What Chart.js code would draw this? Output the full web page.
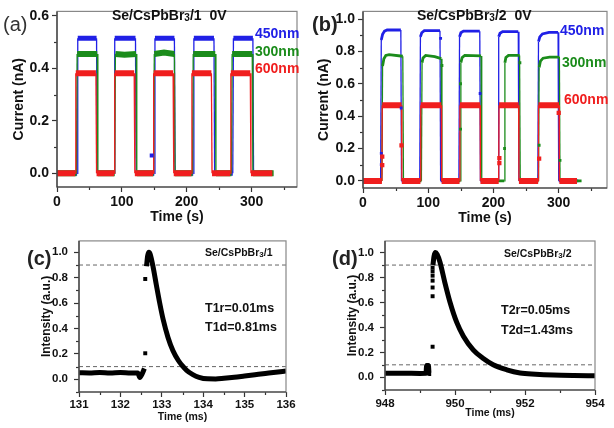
<!DOCTYPE html>
<html><head><meta charset="utf-8">
<script src="https://cdn.jsdelivr.net/npm/chart.js@4.4.0/dist/chart.umd.min.js"></script>
<style>
html,body{margin:0;padding:0;background:#fff;}
#wrap{position:relative;width:614px;height:428px;overflow:hidden;background:#fff;}
canvas{position:absolute;}
</style></head><body>
<div id="wrap">
<canvas id="ca" width="307" height="228" style="left:0px;top:0px"></canvas>
<canvas id="cb" width="309" height="228" style="left:305px;top:0px"></canvas>
<canvas id="cc" width="307" height="200" style="left:0px;top:228px"></canvas>
<canvas id="cd" width="307" height="200" style="left:307px;top:228px"></canvas>
</div>
<script>
// ---------- DATA (time, value) ----------
// (a) Se/CsPbBr3/1 0V  : time (s), current (nA)
const a600 = [[0,0],[28,0],[29,0.381],[60,0.381],[61,0],[88,0],[89,0.381],[119,0.381],[120,0],[148,0],[149,0.381],[179,0.381],[180,0],[207,0],[208,0.381],[238,0.381],[239,0],[267,0],[268,0.381],[298,0.381],[299,0],[332,0]];
const a450 = [[0,0],[31,0],[32,0.515],[61,0.515],[62,0],[88,0],[89,0.515],[121,0.515],[122,0],[150,0],[151,0.515],[181,0.515],[182,0],[210,0],[211,0.515],[242,0.515],[243,0],[271,0],[272,0.515],[302,0.515],[303,0],[332,0]];
const a300 = [[0,0],[30,0],[31,0.455],[62,0.455],[63,0],[89,0],[90,0.455],[104,0.452],[122,0.455],[123,0],[149,0],[150,0.455],[165,0.46],[181,0.455],[182,0],[209,0],[210,0.455],[244,0.455],[245,0],[269,0],[270,0.455],[301,0.455],[302,0],[334,0]];
const a450Marks = [[146,0.068]];

// (b) Se/CsPbBr3/2 0V
const b600 = [[0,0],[29,0],[29.5,0.467],[59,0.467],[59.5,0],[88,0],[88.5,0.467],[120,0.467],[120.5,0],[148,0],[148.5,0.467],[179.5,0.467],[180,0],[208,0],[208.5,0.467],[238.5,0.467],[239,0],[268.5,0],[269,0.467],[300.5,0.467],[301,0],[328,0]];
const b450 = [[0,0],[27,0],[28,0.87],[30,0.905],[33,0.925],[37,0.932],[58,0.932],[59,0],[87,0],[88,0.89],[90,0.915],[94,0.928],[118,0.928],[119,0],[147,0],[148,0.89],[150,0.915],[154,0.925],[179,0.925],[180,0],[207,0],[208,0.89],[210,0.912],[214,0.922],[238,0.922],[239,0],[268,0],[269,0.86],[271,0.89],[275,0.908],[285,0.917],[299,0.918],[300,0],[330,0]];
const b300 = [[0,0],[29,0],[30,0.71],[32,0.755],[35,0.775],[40,0.78],[61,0.77],[62,0],[89.5,0],[90.5,0.73],[92,0.76],[96,0.775],[110,0.768],[120,0.755],[121,0],[149,0],[150,0.73],[152,0.762],[156,0.775],[181,0.772],[182,0],[216.5,0],[217.5,0.73],[219,0.762],[223,0.775],[240,0.775],[241,0],[269,0],[270,0.7],[272,0.74],[276,0.758],[286,0.765],[301,0.765],[302,0],[335,0]];
const b600Marks = [[29.5,0.15],[29.5,0.097],[59,0.22],[209,0.14],[209,0.11],[270,0.137],[300,0.42]];
const b450Marks = [[28,0.17],[28,0.1],[58.5,0.45],[119,0.88],[179.5,0.54]];
const b300Marks = [[121,0.713],[149.5,0.6],[149.5,0.32],[217,0.2],[240.5,0.73],[270,0.22],[302,0.127]];

// (c) Se/CsPbBr3/1 : time (ms), normalized intensity
const cCurve = [[131,0.052],[131.25,0.05],[131.5,0.054],[131.75,0.05],[132,0.053],[132.25,0.049],[132.42,0.05],[132.47,0.015],[132.52,0.04],[132.58,0.085],[132.6,null],[132.63,0.89],[132.66,0.975],[132.69,1.0],[132.72,0.985],[132.79,0.885],[132.87,0.74],[132.95,0.6],[133.03,0.475],[133.15,0.33],[133.27,0.225],[133.4,0.148],[133.5,0.105],[133.6,0.07],[133.75,0.037],[133.9,0.016],[134.1,0.004],[134.3,0.003],[134.5,0.008],[134.75,0.016],[135,0.026],[135.25,0.036],[135.5,0.046],[135.75,0.056],[136,0.065]];
const cMarks = [[132.6,0.205],[132.6,0.79]];
const cLevels = [0.9, 0.1];

// (d) Se/CsPbBr3/2
const dCurve = [[948,0.032],[948.5,0.033],[949,0.031],[949.17,0.032],[949.19,0.095],[949.24,0.095],[949.26,0.03],[949.32,0.03],[949.34,null],[949.37,0.9],[949.4,0.97],[949.44,1.0],[949.49,0.985],[949.57,0.925],[949.71,0.76],[949.86,0.6],[950.05,0.44],[950.24,0.33],[950.52,0.22],[950.81,0.15],[951.09,0.1],[951.48,0.06],[951.86,0.035],[952.3,0.025],[952.8,0.018],[953.4,0.014],[954,0.012]];
const dMarks = [[949.36,0.88],[949.36,0.85],[949.36,0.815],[949.36,0.775],[949.36,0.72],[949.36,0.65],[949.36,0.245]];
const dLevels = [0.9, 0.1];

// ---------- STYLE ----------
const F = "'Liberation Sans', Arial, Helvetica, sans-serif";
const RED = '#f01e1e', GREEN = '#1b8c1b', BLUE = '#2020e6', BLACK = '#000';

const decoPlugin = {
  id: 'deco',
  afterDraw(chart, args, o) {
    const {ctx, chartArea: a, scales: {x, y}} = chart;
    ctx.save();
    ctx.lineWidth = 1.2;
    ctx.strokeStyle = '#333';
    const minor = (s, step, major, horiz) => {
      for (let v = Math.ceil(s.min / step - 1e-9) * step; v <= s.max + 1e-9; v += step) {
        const r = v / major;
        if (Math.abs(r - Math.round(r)) < 1e-6) continue;
        const p = Math.round(s.getPixelForValue(v)) + 0.5;
        ctx.beginPath();
        if (horiz) { ctx.moveTo(p, a.bottom); ctx.lineTo(p, a.bottom + 3); }
        else { ctx.moveTo(a.left - 3, p); ctx.lineTo(a.left, p); }
        ctx.stroke();
      }
    };
    minor(x, o.minorX, o.majorX, true);
    minor(y, o.minorY, o.majorY, false);
    ctx.strokeStyle = '#888';
    ctx.strokeRect(a.left, a.top, a.right - a.left, a.bottom - a.top);
    ctx.strokeStyle = '#333';
    ctx.beginPath();
    ctx.moveTo(a.left, a.top); ctx.lineTo(a.left, a.bottom); ctx.lineTo(a.right, a.bottom);
    ctx.stroke();
    ctx.textBaseline = 'middle';
    ctx.textAlign = 'left';
    for (const t of o.texts) {
      let cx = t.x;
      for (const r of t.runs) {
        ctx.font = r[1] + ' ' + F;
        ctx.fillStyle = r[2];
        ctx.fillText(r[0], cx, t.y + (r[3] || 0));
        cx += ctx.measureText(r[0]).width;
      }
    }
    ctx.restore();
  }
};

function series(data, color, thick, thin) {
  return {data, borderColor: color, backgroundColor: color, pointRadius: 0, borderWidth: thin,
    clip: 0, tension: 0, showLine: true, spanGaps: false,
    segment: {borderWidth: c => Math.abs(c.p1.parsed.x - c.p0.parsed.x) > 1.2 ? thick : thin}};
}
function curve(data) {
  return {data, borderColor: BLACK, pointRadius: 0, borderWidth: 5, clip: 0, showLine: true,
    spanGaps: false, cubicInterpolationMode: 'monotone', borderJoinStyle: 'round'};
}
function marks(data, color, r) {
  return {data, showLine: false, pointStyle: 'rect', pointRadius: r, backgroundColor: color,
    borderWidth: 0, clip: 0};
}
function level(v, x0, x1) {
  return {data: [[x0, v], [x1, v]], borderColor: '#666', borderWidth: 1, borderDash: [4, 3],
    pointRadius: 0, showLine: true, clip: 0};
}
function axis(o) {
  return {
    type: 'linear', position: o.pos, min: o.min, max: o.max,
    ticks: {stepSize: o.step, includeBounds: false, autoSkip: false, maxRotation: 0,
      padding: o.tp, color: '#111', font: {family: F, size: o.fs, weight: 'bold'},
      callback: o.fmt},
    grid: {drawOnChartArea: false, drawTicks: true, tickLength: 5, color: '#333', tickWidth: 1.2},
    border: {display: false},
    title: {display: true, text: o.title, color: '#111',
      font: {family: F, size: o.tfs, weight: 'bold'}, padding: o.tpad},
    afterFit: s => { if (o.pos === 'bottom') s.height = o.size; else s.width = o.size; }
  };
}
function build(id, datasets, pad, xo, yo, deco) {
  return new Chart(document.getElementById(id), {
    type: 'line',
    data: {datasets},
    options: {
      responsive: false, animation: false, devicePixelRatio: 1,
      layout: {padding: {left: 0, top: pad[0], right: pad[1], bottom: 0}},
      plugins: {legend: {display: false}, tooltip: {enabled: false}, deco},
      scales: {x: axis(Object.assign({pos: 'bottom'}, xo)), y: axis(Object.assign({pos: 'left'}, yo))}
    },
    plugins: [decoPlugin]
  });
}
const f1 = v => v.toFixed(1);
const f0 = v => String(Math.round(v));
const title = (tail, big, small) => [['Se/CsPbBr', 'bold ' + big + 'px', '#111'], ['3', 'bold ' + small + 'px', '#111', 2], [tail, 'bold ' + big + 'px', '#111']];

// (a)
build('ca', [
  marks(a450Marks, BLUE, 2.8),
  series(a600, RED, 6, 1.3),
  series(a300, GREEN, 6, 1.3),
  series(a450, BLUE, 5, 1.3)
], [6, 10],
  {min: 0, max: 370, step: 100, tp: 2, fs: 14, fmt: f0, title: 'Time (s)', tfs: 14, tpad: {top: 0, bottom: 2}, size: 41},
  {min: -0.052, max: 0.617, step: 0.2, tp: 3, fs: 14, fmt: f1, title: 'Current (nA)', tfs: 14, tpad: {top: 10.5, bottom: 0}, size: 57},
  {minorX: 50, majorX: 100, minorY: 0.1, majorY: 0.2, texts: [
    {x: 3, y: 25, runs: [['(a)', 'normal 20px', '#333']]},
    {x: 112, y: 16, runs: title('/1  0V', 14, 10)},
    {x: 255, y: 34, runs: [['450nm', 'bold 14px', BLUE]]},
    {x: 255, y: 52, runs: [['300nm', 'bold 14px', GREEN]]},
    {x: 255, y: 69, runs: [['600nm', 'bold 14px', RED]]}
  ]});

// (b)
build('cb', [
  marks(b600Marks, RED, 3),
  marks(b450Marks, BLUE, 2),
  marks(b300Marks, GREEN, 2),
  series(b600, RED, 6, 1.3),
  series(b300, GREEN, 2.8, 1.3),
  series(b450, BLUE, 2.8, 1.3)
], [8, 7],
  {min: 0, max: 374, step: 100, tp: 2, fs: 14, fmt: f0, title: 'Time (s)', tfs: 14, tpad: {top: 0, bottom: 1}, size: 40},
  {min: -0.044, max: 1.047, step: 0.2, tp: 3, fs: 14, fmt: f1, title: 'Current (nA)', tfs: 14, tpad: {top: 11, bottom: 0}, size: 58},
  {minorX: 50, majorX: 100, minorY: 0.1, majorY: 0.2, texts: [
    {x: 7, y: 25, runs: [['(b)', 'bold 20px', '#222']]},
    {x: 112, y: 16, runs: title('/2  0V', 14, 10)},
    {x: 255, y: 31, runs: [['450nm', 'bold 14px', BLUE]]},
    {x: 257, y: 63, runs: [['300nm', 'bold 14px', GREEN]]},
    {x: 259, y: 100, runs: [['600nm', 'bold 14px', RED]]}
  ]});

// (c)
build('cc', [
  marks(cMarks, BLACK, 2.8),
  curve(cCurve),
  level(cLevels[0], 131, 136),
  level(cLevels[1], 131, 136)
], [12, 21],
  {min: 131, max: 136, step: 1, tp: 1, fs: 11.5, fmt: f0, title: 'Time (ms)', tfs: 10.5, tpad: {top: 0, bottom: 5}, size: 36},
  {min: -0.1, max: 1.09, step: 0.2, tp: 6, fs: 11.5, fmt: f1, title: 'Intensity (a.u.)', tfs: 12, tpad: {top: 39.5, bottom: 0}, size: 79},
  {minorX: 0.5, majorX: 1, minorY: 0.1, majorY: 0.2, texts: [
    {x: 27, y: 31, runs: [['(c)', 'bold 20px', '#222']]},
    {x: 205, y: 25, runs: [['Se/CsPbBr', 'bold 10.5px', '#111'], ['3', 'bold 8px', '#111', 2], ['/1', 'bold 10.5px', '#111']]},
    {x: 205, y: 81, runs: [['T1r=0.01ms', 'bold 12.5px', '#111']]},
    {x: 205, y: 100, runs: [['T1d=0.81ms', 'bold 12.5px', '#111']]}
  ]});

// (d)
build('cd', [
  marks(dMarks, BLACK, 2.8),
  curve(dCurve),
  level(dLevels[0], 948, 954),
  level(dLevels[1], 948, 954)
], [13, 19],
  {min: 948, max: 954, step: 2, tp: 2, fs: 11.5, fmt: f0, title: 'Time (ms)', tfs: 10.5, tpad: {top: 0, bottom: 9}, size: 38},
  {min: -0.102, max: 1.093, step: 0.2, tp: 6, fs: 11.5, fmt: f1, title: 'Intensity (a.u.)', tfs: 12, tpad: {top: 38.5, bottom: 0}, size: 78},
  {minorX: 1, majorX: 2, minorY: 0.1, majorY: 0.2, texts: [
    {x: 25, y: 31, runs: [['(d)', 'bold 20px', '#222']]},
    {x: 197, y: 26, runs: [['Se/CsPbBr', 'bold 10.5px', '#111'], ['3', 'bold 8px', '#111', 2], ['/2', 'bold 10.5px', '#111']]},
    {x: 194, y: 83, runs: [['T2r=0.05ms', 'bold 12.5px', '#111']]},
    {x: 194, y: 103, runs: [['T2d=1.43ms', 'bold 12.5px', '#111']]}
  ]});
</script>
</body></html>
